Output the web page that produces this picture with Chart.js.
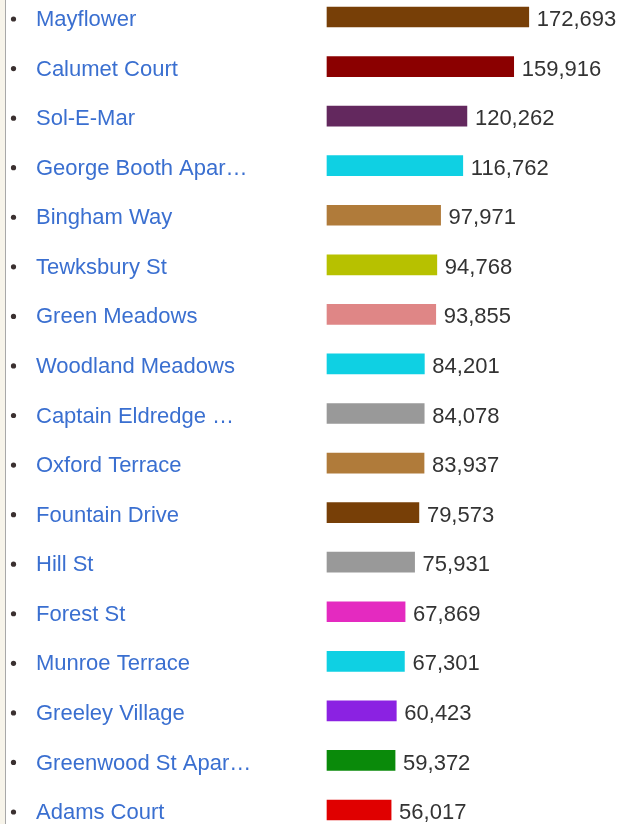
<!DOCTYPE html>
<html><head><meta charset="utf-8">
<script src="https://cdn.jsdelivr.net/npm/chart.js@4"></script>
<style>html,body{margin:0;padding:0;background:#fff;}#wrap{width:622px;height:824px;position:relative;}</style>
</head><body><div id="wrap"><canvas id="c" width="622" height="824"></canvas></div>
<script>
const categories = ["Mayflower","Calumet Court","Sol-E-Mar","George Booth Apar\u2026","Bingham Way","Tewksbury St","Green Meadows","Woodland Meadows","Captain Eldredge \u2026","Oxford Terrace","Fountain Drive","Hill St","Forest St","Munroe Terrace","Greeley Village","Greenwood St Apar\u2026","Adams Court"];
const values = [172693,159916,120262,116762,97971,94768,93855,84201,84078,83937,79573,75931,67869,67301,60423,59372,56017];
const barColors = ["#773f07","#8b0000","#63285e","#0fd0e3","#b07b3a","#b7c100","#df8686","#0fd0e3","#999999","#b07b3a","#773f07","#999999","#e42ac0","#0fd0e3","#8b22e2","#0a8a0a","#e00000"];
const FONT = "Arial, 'Liberation Sans', sans-serif";

const deco = {
  id: 'deco',
  beforeDraw(chart) {
    const ctx = chart.ctx;
    ctx.save();
    ctx.fillStyle = '#f7f4ea';
    ctx.fillRect(0, 0, 5, chart.height);
    ctx.fillStyle = '#a8a8a8';
    ctx.fillRect(5, 0, 1, chart.height);
    const y = chart.scales.y;
    ctx.fillStyle = '#3a3030';
    categories.forEach((c, i) => {
      const py = y.getPixelForValue(i);
      ctx.beginPath();
      ctx.arc(13.5, py + 2, 2.6, 0, Math.PI * 2);
      ctx.fill();
    });
    ctx.restore();
  },
  afterDatasetsDraw(chart) {
    const ctx = chart.ctx;
    const meta = chart.getDatasetMeta(0);
    ctx.save();
    ctx.font = '22px ' + FONT;
    ctx.fillStyle = '#333333';
    ctx.textBaseline = 'middle';
    ctx.textAlign = 'left';
    meta.data.forEach((bar, i) => {
      ctx.fillText(values[i].toLocaleString('en-US'), bar.x + 7, bar.y + 3);
    });
    ctx.restore();
  }
};

new Chart(document.getElementById('c'), {
  type: 'bar',
  data: {
    labels: categories,
    datasets: [{
      data: values,
      backgroundColor: barColors,
      borderColor: 'rgba(255,255,255,0.35)',
      borderWidth: 1,
      borderSkipped: false,
      barThickness: 22,
      clip: false
    }]
  },
  options: {
    indexAxis: 'y',
    responsive: false,
    animation: false,
    layout: { padding: { left: 36, right: 1, top: 17, bottom: 14 } },
    plugins: { legend: { display: false }, tooltip: { enabled: false } },
    scales: {
      x: {
        min: 0, max: 250000, display: false
      },
      y: {
        offset: false,
        grid: { display: false },
        border: { display: false },
        ticks: {
          crossAlign: 'far',
          color: '#3a6fd0',
          font: { family: FONT, size: 22 },
          padding: 0,
          labelOffset: 3,
          autoSkip: false
        },
        afterFit(scale) { scale.width = 290; }
      }
    }
  },
  plugins: [deco]
});
</script></body></html>
